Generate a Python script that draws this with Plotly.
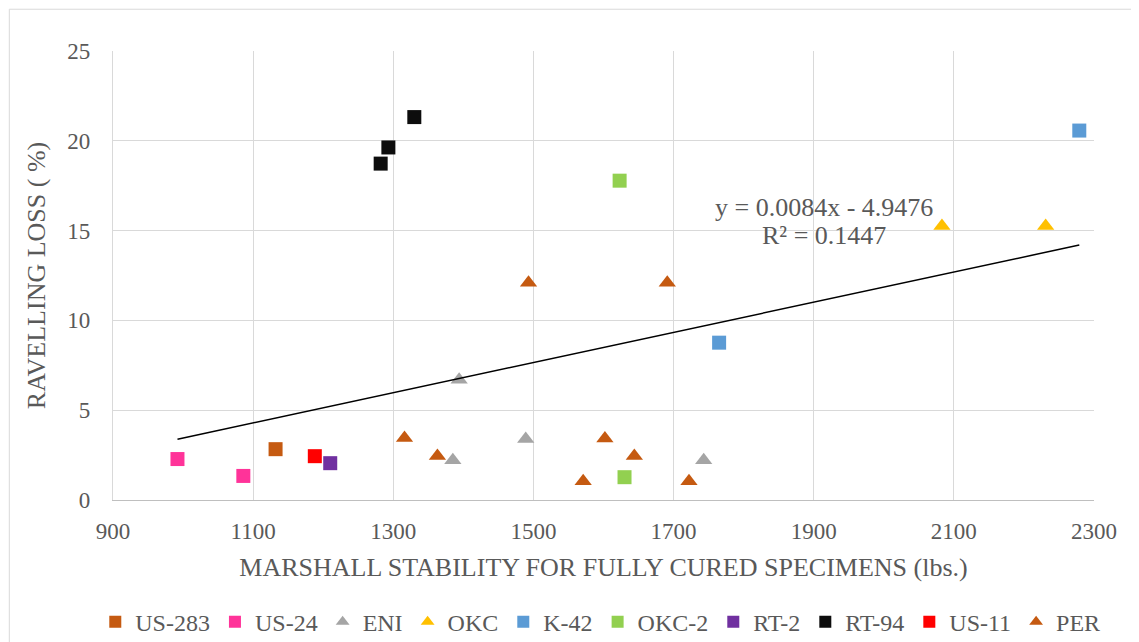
import plotly.graph_objects as go

series_names = ["US-283", "US-24", "ENI", "OKC", "K-42", "OKC-2", "RT-2", "RT-94", "US-11", "PER"]
series_x = {
    "US-283": [1132],
    "US-24": [992, 1086],
    "ENI": [1394, 1385, 1489, 1743],
    "OKC": [2083, 2231],
    "K-42": [1765, 2279],
    "OKC-2": [1623, 1630],
    "RT-2": [1210],
    "RT-94": [1330, 1293, 1282],
    "US-11": [1188],
    "PER": [1316, 1363, 1493, 1691, 1602, 1644, 1571, 1722],
}
series_y = {
    "US-283": [2.83],
    "US-24": [2.28, 1.34],
    "ENI": [6.7, 2.22, 3.4, 2.22],
    "OKC": [15.25, 15.25],
    "K-42": [8.76, 20.57],
    "OKC-2": [17.78, 1.27],
    "RT-2": [2.05],
    "RT-94": [21.32, 19.63, 18.73],
    "US-11": [2.44],
    "PER": [3.45, 2.45, 12.1, 12.1, 3.42, 2.45, 1.05, 1.05],
}
colors = {
    "US-283": "#C55A11", "US-24": "#FF3399", "ENI": "#A5A5A5", "OKC": "#FFC000",
    "K-42": "#5B9BD5", "OKC-2": "#92D050", "RT-2": "#7030A0", "RT-94": "#0D0D0D",
    "US-11": "#FF0000", "PER": "#C55A11",
}
symbols = {
    "US-283": "square", "US-24": "square", "ENI": "triangle-up", "OKC": "triangle-up",
    "K-42": "square", "OKC-2": "square", "RT-2": "square", "RT-94": "square",
    "US-11": "square", "PER": "triangle-up",
}
trend_slope = 0.0084
trend_intercept = -4.9476
trend_r2 = 0.1447

x_ticks = [900, 1100, 1300, 1500, 1700, 1900, 2100, 2300]
y_ticks = [0, 5, 10, 15, 20, 25]

FONT = "Liberation Serif"
TXT = "#595959"

fig = go.Figure()
for name in series_names:
    fig.add_trace(go.Scatter(
        x=series_x[name], y=series_y[name], mode="markers", name=name,
        marker=dict(symbol=symbols[name], color=colors[name],
                    size=14 if symbols[name] == "square" else 15,
                    line=dict(width=0)),
    ))

all_x = [v for n in series_names for v in series_x[n]]
tx = [min(all_x), max(all_x)]
ty = [trend_slope * v + trend_intercept for v in tx]
fig.add_trace(go.Scatter(x=tx, y=ty, mode="lines", line=dict(color="black", width=1.5),
                         showlegend=False, hoverinfo="skip"))

fig.add_annotation(x=1915, y=16.28, xref="x", yref="y",
                   text=f"y = {trend_slope}x - {abs(trend_intercept)}",
                   showarrow=False, font=dict(family=FONT, size=26, color=TXT))
fig.add_annotation(x=1915, y=14.72, xref="x", yref="y",
                   text=f"R² = {trend_r2}",
                   showarrow=False, font=dict(family=FONT, size=26, color=TXT))

fig.add_shape(type="rect", xref="paper", yref="paper", x0=-0.1057, x1=1.043, y0=-0.4, y1=1.093,
              line=dict(color="#D9D9D9", width=1), fillcolor="rgba(0,0,0,0)", layer="below")

fig.update_layout(
    width=1139, height=642,
    margin=dict(l=105, r=53, t=43, b=150, autoexpand=False),
    paper_bgcolor="white", plot_bgcolor="white",
    font=dict(family=FONT, color=TXT, size=18),
    showlegend=True,
    legend=dict(orientation="h", x=1.0115, xanchor="right", y=-0.272, yanchor="middle",
                font=dict(family=FONT, size=24, color=TXT), itemsizing="constant",
                traceorder="normal", itemwidth=30, tracegroupgap=0),
)
fig.update_xaxes(range=[900, 2300], tickvals=x_ticks, showgrid=True, gridcolor="#D9D9D9",
                 gridwidth=1.3, zeroline=False, showline=True, linecolor="#BFBFBF", linewidth=1.3,
                 mirror=False, ticks="outside", ticklen=10, tickcolor="rgba(0,0,0,0)",
                 automargin=False,
                 tickfont=dict(family=FONT, size=23, color=TXT),
                 title=dict(text="MARSHALL STABILITY FOR FULLY CURED SPECIMENS (lbs.)",
                            font=dict(family=FONT, size=26, color=TXT), standoff=15))
fig.update_yaxes(range=[0, 25], tickvals=y_ticks, showgrid=True, gridcolor="#D9D9D9",
                 gridwidth=1.3, zeroline=False, showline=True, linecolor="#D9D9D9", linewidth=1.3,
                 ticks="outside", ticklen=17, tickcolor="rgba(0,0,0,0)", automargin=False,
                 tickfont=dict(family=FONT, size=23, color=TXT),
                 title=dict(text="RAVELLING LOSS ( %)", font=dict(family=FONT, size=26, color=TXT),
                            standoff=14))

fig.write_html("out.html")
